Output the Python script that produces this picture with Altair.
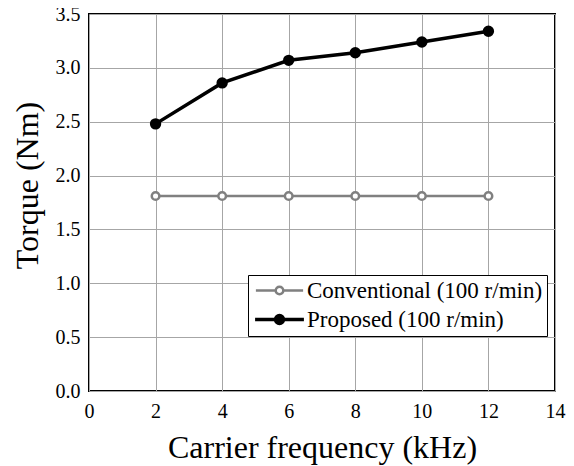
import altair as alt
import pandas as pd

freq = [2, 4, 6, 8, 10, 12]
conventional = [1.81, 1.81, 1.81, 1.81, 1.81, 1.81]
proposed = [2.48, 2.86, 3.07, 3.14, 3.24, 3.34]
series_names = ["Conventional (100 r/min)", "Proposed (100 r/min)"]
x_ticks = [0, 2, 4, 6, 8, 10, 12, 14]
y_ticks = [0.0, 0.5, 1.0, 1.5, 2.0, 2.5, 3.0, 3.5]

df = pd.DataFrame(
    {
        "freq": freq * 2,
        "torque": conventional + proposed,
        "series": [series_names[0]] * len(freq) + [series_names[1]] * len(freq),
    }
)

FONT = "Liberation Serif"

x = alt.X(
    "freq:Q",
    scale=alt.Scale(domain=[0, 14], nice=False),
    axis=alt.Axis(
        values=x_ticks,
        title="Carrier frequency (kHz)",
        labelFontSize=20,
        labelPadding=10,
        labelFlush=False,
        titleFontSize=32,
        titleFontWeight="normal",
        titleY=66,
        titleBaseline="alphabetic",
        ticks=False,
        domain=False,
    ),
)
y = alt.Y(
    "torque:Q",
    scale=alt.Scale(domain=[0, 3.5], nice=False),
    axis=alt.Axis(
        values=y_ticks,
        format=".1f",
        title="Torque (Nm)",
        labelFontSize=20,
        labelPadding=9,
        labelFlush=False,
        titleFontSize=32,
        titleFontWeight="normal",
        titleX=-52,
        titleY=171,
        titleAlign="center",
        titleBaseline="alphabetic",
        ticks=False,
        domain=False,
    ),
)

legend = alt.Legend(
    title=None,
    orient="none",
    legendX=159,
    legendY=261,
    direction="vertical",
    fillColor="white",
    strokeColor="black",
    padding=4,
    labelFont=FONT,
    labelFontSize=23,
    labelColor="black",
    labelLimit=400,
    labelOffset=16,
    symbolOffset=16,
    symbolSize=100,
    symbolType="M-6.2,0H-1.0M1.0,0H6.2M-1.0,0A1.0,1.0,0,1,1,1.0,0A1.0,1.0,0,1,1,-1.0,0Z",
    rowPadding=5,
)

color = alt.Color(
    "series:N",
    scale=alt.Scale(domain=series_names, range=["#808080", "#000000"]),
    legend=legend,
)
fill = alt.Fill(
    "series:N",
    scale=alt.Scale(domain=series_names, range=["#ffffff", "#000000"]),
    legend=legend,
)
sw = alt.StrokeWidth(
    "series:N",
    scale=alt.Scale(domain=series_names, range=[2.5, 3.5]),
    legend=legend,
)

lines = alt.Chart(df).mark_line().encode(x=x, y=y, color=color, strokeWidth=sw)
points = alt.Chart(df).mark_point(shape="circle", filled=False, opacity=1).encode(
    x=x,
    y=y,
    color=color,
    fill=fill,
    strokeWidth=sw,
    size=alt.Size(
        "series:N",
        scale=alt.Scale(domain=series_names, range=[58, 62]),
        legend=None,
    ),
)

chart = (
    alt.layer(lines, points)
    .properties(
        width=466,
        height=377,
        autosize=alt.AutoSizeParams(type="none"),
        padding={"left": 81, "top": 6, "right": 11, "bottom": 75},
    )
    .configure(font=FONT)
    .configure_view(stroke="black", strokeWidth=2)
    .configure_axis(
        gridColor="#a6a6a6",
        gridWidth=1,
        gridOpacity=1,
        labelColor="black",
        titleColor="black",
        labelFont=FONT,
        titleFont=FONT,
    )
)

chart.save("out.html", embed_options={"renderer": "svg", "actions": False})
